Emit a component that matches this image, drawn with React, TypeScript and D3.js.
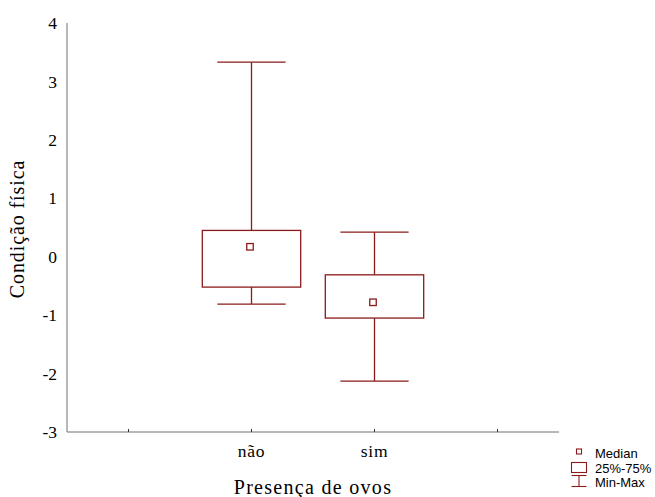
import React from "react";
import * as d3 from "d3";

// Box-and-whisker summary of body condition by egg presence
const groups = ["não", "sim"];
const minValues = [-0.81, -2.13];
const q1Values = [-0.52, -1.05];
const medianValues = [0.17, -0.78];
const q3Values = [0.45, -0.31];
const maxValues = [3.33, 0.42];

const yTicks = [-3, -2, -1, 0, 1, 2, 3, 4];
const legendLabels = ["Median", "25%-75%", "Min-Max"];

const W = 655;
const H = 497;
const M = { left: 67, right: 559, top: 23, bottom: 432 };
const RED = "#8b1a1a";
const AXIS = "#707070";

export default function App() {
  // two empty slots flank the groups on the categorical axis
  const slots = [" ", ...groups, "  "];
  const x = d3.scaleBand<string>().domain(slots).range([M.left, M.right]).padding(0);
  const y = d3.scaleLinear().domain([-3, 4]).range([M.bottom, M.top]);
  const bw = x.bandwidth();
  const boxW = bw * 0.8;
  const capW = bw * 0.555;
  const med = 6.5;

  const data = groups.map((g, i) => ({
    g,
    min: minValues[i],
    q1: q1Values[i],
    med: medianValues[i],
    q3: q3Values[i],
    max: maxValues[i],
  }));

  const lx = 579;
  const legY = [453, 468, 482];

  return (
    <svg
      width={W}
      height={H}
      style={{ position: "absolute", left: 0, top: 0, background: "#fff" }}
      fontFamily="'Liberation Serif', 'Times New Roman', serif"
    >
      {/* axes */}
      <line x1={M.left} x2={M.left} y1={M.top} y2={M.bottom} stroke={AXIS} strokeWidth={1} />
      <line x1={M.left} x2={M.right} y1={M.bottom} y2={M.bottom} stroke={AXIS} strokeWidth={1} />
      {slots.map((s) => {
        const cx = (x(s) as number) + bw / 2;
        return <line key={"t" + s} x1={cx} x2={cx} y1={M.bottom} y2={M.bottom - 3} stroke="#333" strokeWidth={1} />;
      })}
      {yTicks.map((t) => (
        <text key={t} x={57} y={y(t)} dy="0.35em" textAnchor="end" fontSize={17.5} fill="#000">
          {t}
        </text>
      ))}
      {groups.map((g) => (
        <text
          key={g}
          x={(x(g) as number) + bw / 2}
          y={457}
          textAnchor="middle"
          fontSize={17.5}
          letterSpacing={0.8}
          fill="#000"
        >
          {g}
        </text>
      ))}
      <text x={313} y={494} textAnchor="middle" fontSize={20} letterSpacing={1.3} fill="#000">
        Presença de ovos
      </text>
      <text
        transform={`translate(24,229) rotate(-90)`}
        textAnchor="middle"
        fontSize={20}
        letterSpacing={0.9}
        fill="#000"
      >
        Condição física
      </text>

      {/* boxes */}
      {data.map((d) => {
        const cx = (x(d.g) as number) + bw / 2;
        return (
          <g key={d.g} stroke={RED} strokeWidth={1.3} fill="none">
            <line x1={cx} x2={cx} y1={y(d.max)} y2={y(d.q3)} />
            <line x1={cx} x2={cx} y1={y(d.q1)} y2={y(d.min)} />
            <line x1={cx - capW / 2} x2={cx + capW / 2} y1={y(d.max)} y2={y(d.max)} />
            <line x1={cx - capW / 2} x2={cx + capW / 2} y1={y(d.min)} y2={y(d.min)} />
            <rect x={cx - boxW / 2} y={y(d.q3)} width={boxW} height={y(d.q1) - y(d.q3)} />
            <rect x={cx - med / 2 - 1.5} y={y(d.med) - med / 2} width={med} height={med} />
          </g>
        );
      })}

      {/* legend */}
      <g stroke={RED} strokeWidth={1.1} fill="none">
        <rect x={lx - 2.5} y={legY[0] - 4} width={5} height={5} />
        <rect x={lx - 7.5} y={legY[1] - 5.5} width={15} height={10} />
        <line x1={lx - 7.5} x2={lx + 7.5} y1={legY[2] - 6.5} y2={legY[2] - 6.5} />
        <line x1={lx} x2={lx} y1={legY[2] - 6.5} y2={legY[2] + 4.5} />
        <line x1={lx - 7.5} x2={lx + 7.5} y1={legY[2] + 4.5} y2={legY[2] + 4.5} />
      </g>
      {legendLabels.map((l, i) => (
        <text
          key={l}
          x={595}
          y={legY[i]}
          dy="0.35em"
          fontSize={13}
          fontFamily="'Liberation Sans', Arial, sans-serif"
          fill="#000"
        >
          {l}
        </text>
      ))}
    </svg>
  );
}
